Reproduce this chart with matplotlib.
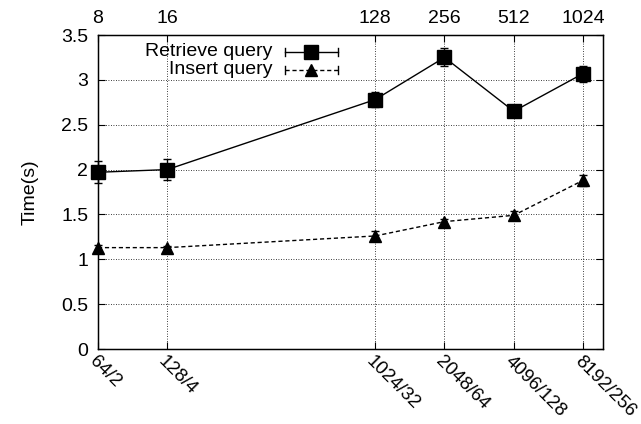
import matplotlib
matplotlib.use("Agg")
import matplotlib.pyplot as plt
import matplotlib.transforms as transforms
from matplotlib.lines import Line2D
import numpy as np

plt.rcParams['font.family'] = ['Liberation Sans', 'DejaVu Sans']
plt.rcParams['font.size'] = 14

# data
sizes = [64, 128, 1024, 2048, 4096, 8192]
bottom_labels = ['64/2', '128/4', '1024/32', '2048/64', '4096/128', '8192/256']
top_labels = ['8', '16', '128', '256', '512', '1024']

retrieve_time = [1.97, 2.00, 2.78, 3.25, 2.65, 3.07]
retrieve_err = [0.12, 0.12, 0.08, 0.10, 0.05, 0.09]
insert_time = [1.13, 1.13, 1.26, 1.42, 1.49, 1.88]
insert_err = [0.03, 0.02, 0.06, 0.03, 0.05, 0.06]

fig = plt.figure(figsize=(6.41, 4.24), dpi=100)
ax = fig.add_axes([98 / 641, 1 - 349 / 424, 505 / 641, 314 / 424])

ax.set_xscale('log', base=2)
ax.set_xlim(64, 10000)
ax.set_ylim(0, 3.5)

for t, e, ls, mk, ms in [(retrieve_time, retrieve_err, '-', 's', 9.5),
                         (insert_time, insert_err, (0, (3, 2)), '^', 8.5)]:
    _, caps, bars = ax.errorbar(sizes, t, yerr=e, color='black', lw=1, ls=ls,
                                marker=mk, ms=ms, capsize=3, elinewidth=1,
                                capthick=1, zorder=3)
    for a in ax.lines[-3:]:
        a.set_clip_on(False)
    for c in list(caps) + list(bars):
        c.set_clip_on(False)

ax.set_xticks(sizes)
ax.set_xticklabels(bottom_labels, rotation=-45, ha='left', va='top',
                   rotation_mode='anchor')
shift = transforms.ScaledTranslation(4 / 100, 0, fig.dpi_scale_trans)
for lbl in ax.get_xticklabels():
    lbl.set_transform(lbl.get_transform() + shift)
ax.minorticks_off()
ax.set_yticks(np.arange(0, 3.51, 0.5))
ax.set_yticklabels(['%g' % v for v in np.arange(0, 3.51, 0.5)])
ax.tick_params(direction='in', length=5, width=0.8, right=True, pad=7)
ax.tick_params(axis='x', pad=3, labelsize=13.5)
ax.grid(True, ls=(0, (1, 2)), color='black', lw=0.6)
for s in ax.spines.values():
    s.set_linewidth(1.0)

ax2 = ax.twiny()
ax2.set_xscale('log', base=2)
ax2.set_xlim(ax.get_xlim())
ax2.set_xticks(sizes)
ax2.set_xticklabels(top_labels)
ax2.minorticks_off()
ax2.tick_params(direction='in', length=5, width=0.8, pad=6)

ax.set_ylabel('Time(s)', labelpad=16)

# gnuplot-style key
tr = ax.transAxes
rows = [('Retrieve query', '-', 's', 9.5, 0.946),
        ('Insert query', (0, (3, 2)), '^', 8.5, 0.889)]
x0, x1, xm = 0.370, 0.475, 0.4225
for label, ls, mk, ms, yy in rows:
    ax.text(0.345, yy, label, transform=tr, ha='right', va='center')
    ax.add_line(Line2D([x0, x1], [yy, yy], transform=tr, color='black',
                       lw=1, ls=ls))
    for xe in (x0, x1):
        ax.add_line(Line2D([xe, xe], [yy - 0.012, yy + 0.012], transform=tr,
                           color='black', lw=1))
    ax.add_line(Line2D([xm], [yy], transform=tr, color='black', marker=mk,
                       ms=ms, ls='none'))

fig.savefig('out.png', dpi=100)
